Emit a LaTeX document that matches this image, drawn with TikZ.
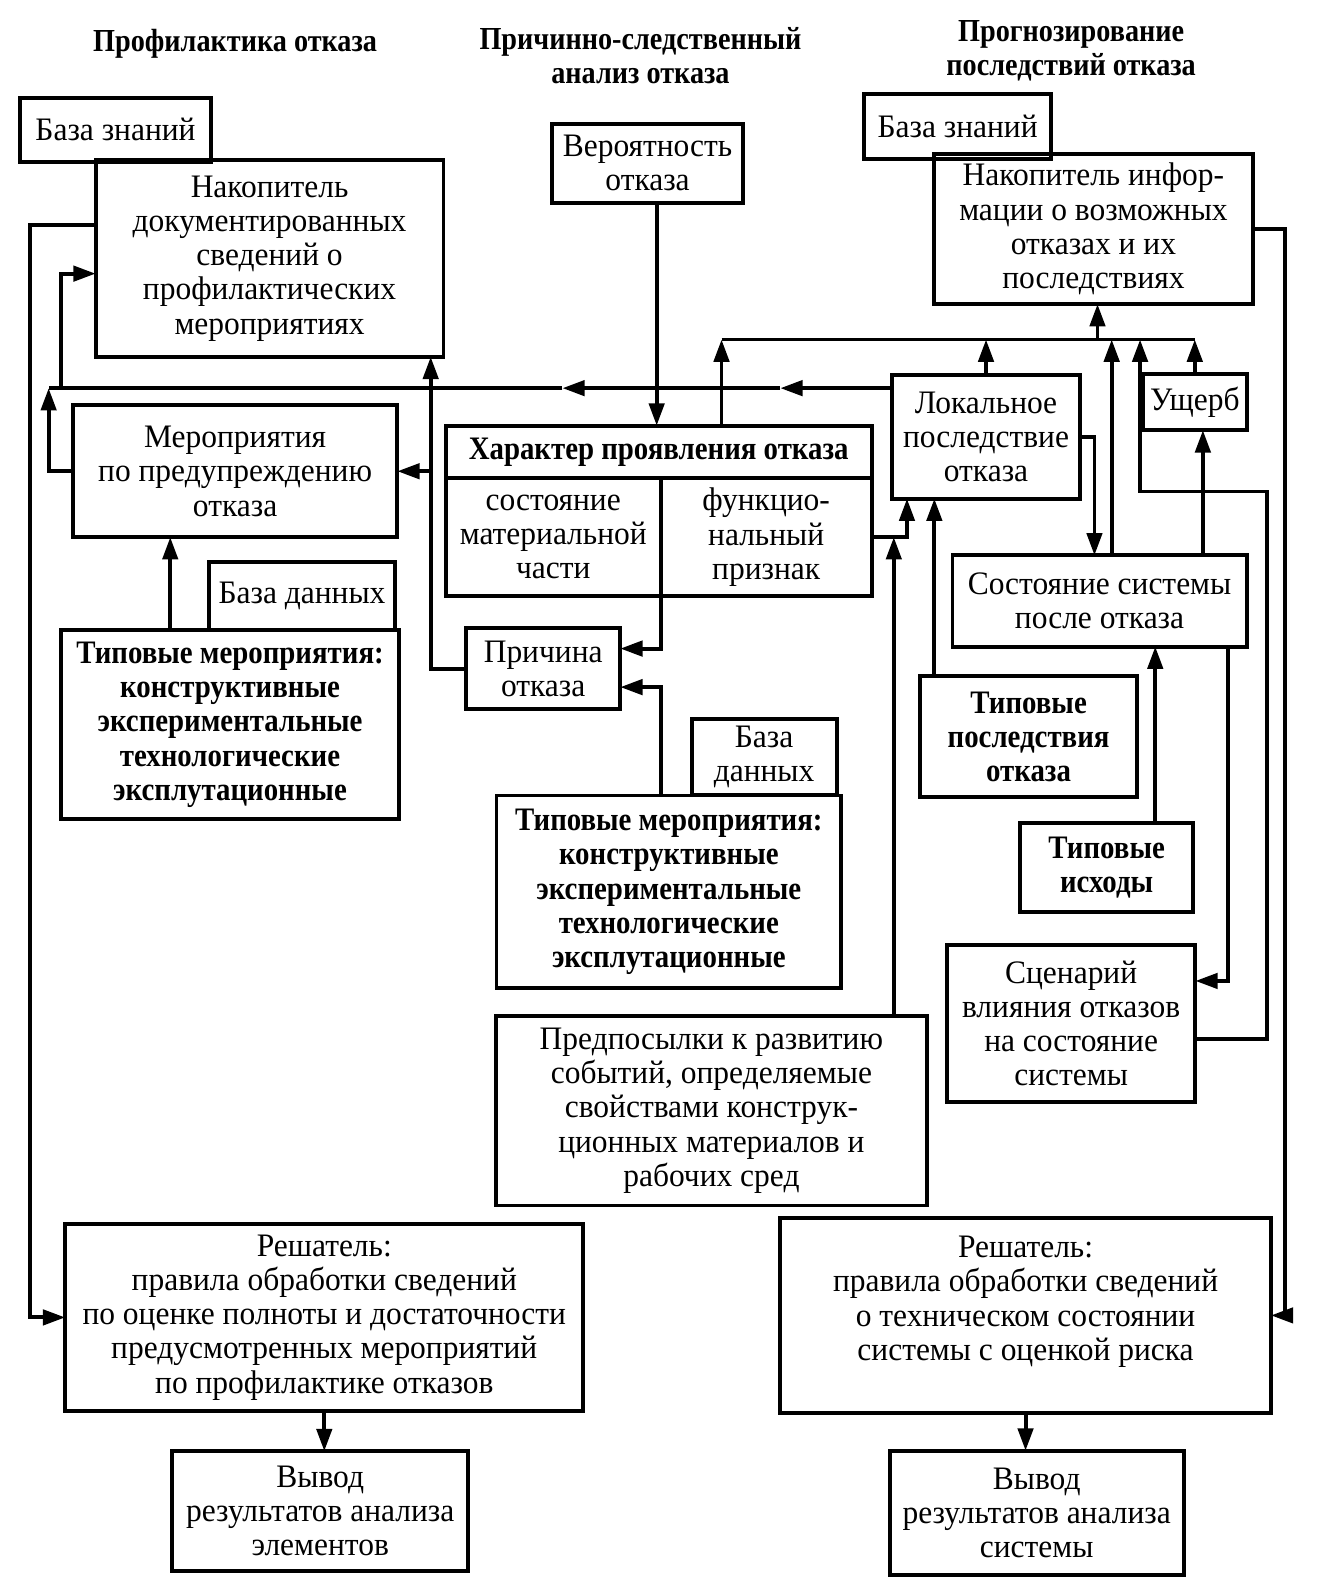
\documentclass[tikz,border=0pt]{standalone}
\usepackage{fontspec}
\setmainfont{Liberation Serif}[FakeStretch=0.96]
\newfontfamily\condbf{Liberation Serif}[FakeStretch=0.88]
\usetikzlibrary{positioning, arrows.meta}

\tikzset{
	box/.style={draw, align=center, inner sep=2pt, outer sep=0pt},
	boldbox/.style={box, font=\fontsize{9.2}{9.6}\condbf\bfseries},
	heading/.style={font=\fontsize{9}{9.6}\condbf\bfseries, align=center},
	>={Triangle[length=2.2mm, width=1.5mm]}
}

\begin{document}
\begin{tikzpicture}[x=0.01cm, y=-0.01cm, line width=1.1pt, font=\fontsize{9.2}{9.6}\selectfont]

		\useasboundingbox (0,0) rectangle (1300,1568);

		% titulos de las columnas
		\node[heading] (t1) at (232,43) {Профилактика отказа};
		\node[heading] (t2) at (632,55) {Причинно-следственный\\анализ отказа};
		\node[heading] (t3) at (1057,50) {Прогнозирование\\последствий отказа};

		% columna izquierda
		\node[box, minimum width=1.88cm, minimum height=0.63cm] (bzl) at (114,128) {База знаний};
		\node[box, minimum width=3.43cm, minimum height=1.94cm] (nakd) at (266,255) {Накопитель\\документированных\\сведений о\\профилактических\\мероприятиях};
		\node[box, minimum width=3.2cm, minimum height=1.3cm] (mer) at (232,465) {Мероприятия\\по предупреждению\\отказа};
		\node[box, minimum width=1.83cm, minimum height=0.67cm] (bdl) at (298,588) {База данных};
		\node[boldbox, minimum width=3.34cm, minimum height=1.86cm] (tml) at (227,715) {Типовые мероприятия:\\конструктивные\\экспериментальные\\технологические\\эксплутационные};

		% columna central
		\node[box, minimum width=1.88cm, minimum height=0.78cm] (ver) at (639,161) {Вероятность\\отказа};
		\node[boldbox, minimum width=4.2cm, minimum height=0.52cm] (hhd) at (650,446) {Характер проявления отказа};
		\node[box, anchor=north west, minimum width=2.12cm, minimum height=1.16cm] (hsm) at (hhd.south west) {состояние\\материальной\\части};
		\node[box, anchor=north west, minimum width=2.08cm, minimum height=1.16cm] (hfn) at (hsm.north east) {функцио-\\нальный\\признак};
		\node[box, minimum width=1.52cm, minimum height=0.8cm] (pri) at (536,660) {Причина\\отказа};
		\node[box, minimum width=1.43cm, minimum height=0.75cm] (bdm) at (754,747) {База\\данных};
		\node[boldbox, minimum width=3.4cm, minimum height=1.9cm] (tmm) at (660,880) {Типовые мероприятия:\\конструктивные\\экспериментальные\\технологические\\эксплутационные};
		\node[box, minimum width=4.25cm, minimum height=1.87cm] (pre) at (702,1096) {Предпосылки к развитию\\событий, определяемые\\свойствами конструк-\\ционных материалов и\\рабочих сред};

		% columna derecha
		\node[box, minimum width=1.85cm, minimum height=0.64cm] (bzr) at (945,125) {База знаний};
		\node[box, minimum width=3.15cm, minimum height=1.48cm] (naki) at (1079,226) {Накопитель инфор-\\мации о возможных\\отказах и их\\последствиях};
		\node[box, minimum width=1.86cm, minimum height=1.22cm] (lok) at (973,431) {Локальное\\последствие\\отказа};
		\node[box, minimum width=0.92cm, minimum height=0.55cm] (ush) at (1179,397) {Ущерб};
		\node[box, minimum width=2.9cm, minimum height=0.9cm] (sos) at (1085,593) {Состояние системы\\после отказа};
		\node[boldbox, minimum width=2.14cm, minimum height=1.19cm] (tpo) at (1015,727) {Типовые\\последствия\\отказа};
		\node[boldbox, minimum width=1.71cm, minimum height=0.88cm] (tis) at (1092,856) {Типовые\\исходы};
		\node[box, minimum width=2.45cm, minimum height=1.55cm] (scn) at (1057,1010) {Сценарий\\влияния отказов\\на состояние\\системы};

		% decisores y salida
		\node[box, minimum width=5.11cm, minimum height=1.84cm] (rsl) at (320,1300) {Решатель:\\правила обработки сведений\\по оценке полноты и достаточности\\предусмотренных мероприятий\\по профилактике отказов};
		\node[box, minimum width=4.84cm, minimum height=1.93cm] (rsr) at (1012,1298) {Решатель:\\правила обработки сведений\\о техническом состоянии\\системы с оценкой риска\\ \mbox{}};
		\node[box, minimum width=2.92cm, minimum height=1.18cm] (vyl) at (316,1491) {Вывод\\результатов анализа\\элементов};
		\node[box, minimum width=2.9cm, minimum height=1.23cm] (vyr) at (1023,1493) {Вывод\\результатов анализа\\системы};

		% puntos de paso de las lineas
		\coordinate (bus) at (712,335);
		\coordinate (loc) at (880,383);
		\coordinate (a1) at (770,383);
		\coordinate (a2) at (555,383);
		\coordinate (loop) at (1250,485);
		\coordinate (xv) at (648,0);
		\coordinate (xn) at (1083,0);
		\coordinate (xs) at (1097,0);
		\coordinate (xl) at (1125,0);
		\coordinate (xd) at (1080,0);
		\coordinate (xu) at (1187,0);
		\coordinate (xc) at (1212,0);
		\coordinate (xt) at (1140,0);
		\coordinate (xp) at (922,0);
		\coordinate (xh) at (895,0);
		\coordinate (xq) at (882,0);
		\coordinate (xR) at (1268,0);
		\coordinate (xL) at (30,0);
		\coordinate (xm) at (48,0);
		\coordinate (xk) at (60,0);
		\coordinate (xc2) at (425,0);
		\coordinate (xf) at (652,0);
		\coordinate (xb) at (168,0);

		% bus superior hacia el acumulador
		\draw (bus) -- (ush.north |- bus);
		\draw[->] (bus |- hhd.north) -- (bus);
		\draw[->] (xn |- bus) -- (xn |- naki.south);
		\draw[->] (lok.north) -- (lok.north |- bus);
		\draw[->] (xs |- sos.north) -- (xs |- bus);
		\draw[->] (ush.north) -- (ush.north |- bus);
		\draw[->] ([yshift=-0.15cm]scn.east) -| (loop) -| (xl |- bus);

		% parte derecha
		\draw[->] (lok.east) -| (xd |- sos.north);
		\draw[->] (xu |- sos.north) -- (xu |- ush.south);
		\draw[->] (xt |- tis.north) -- (xt |- sos.south);
		\draw[->] (xc |- sos.south) |- ([yshift=0.42cm]scn.east);
		\draw[->] (xp |- tpo.north) -- (xp |- lok.south);
		\draw[->] (hfn.east) -| (xh |- lok.south);
		\draw[->] (xq |- pre.north) -- (xq |- hfn.east);
		\draw[->] (naki.east) -| (xR |- rsr.east) -- (rsr.east);

		% linea del efecto local hacia la izquierda
		\draw[->] (loc) -- (a1);
		\draw[->] (a1) -- (a2);
		\draw (a2) -- (xm |- loc);
		\draw[->] (mer.west) -| (xm |- loc);
		\draw[->] (xk |- loc) |- ([yshift=-0.15cm]nakd.west);

		% parte central
		\draw[->] (xv |- ver.south) -- (xv |- hhd.north);
		\draw[->] (pri.west) -| (xc2 |- nakd.south);
		\draw[->] (xc2 |- mer.east) -- (mer.east);
		\draw[->] (xf |- hfn.south) |- ([yshift=0.2cm]pri.east);
		\draw[->] (xf |- tmm.north) |- ([yshift=-0.18cm]pri.east);
		\draw[->] (xb |- tml.north) -- (xb |- mer.south);

		% hacia los decisores
		\draw[->] ([yshift=0.33cm]nakd.west) -| (xL |- rsl.west) -- (rsl.west);
		\draw[->] (rsl.south) -- (rsl.south |- vyl.north);
		\draw[->] (rsr.south) -- (rsr.south |- vyr.north);
	\end{tikzpicture}
\end{document}
